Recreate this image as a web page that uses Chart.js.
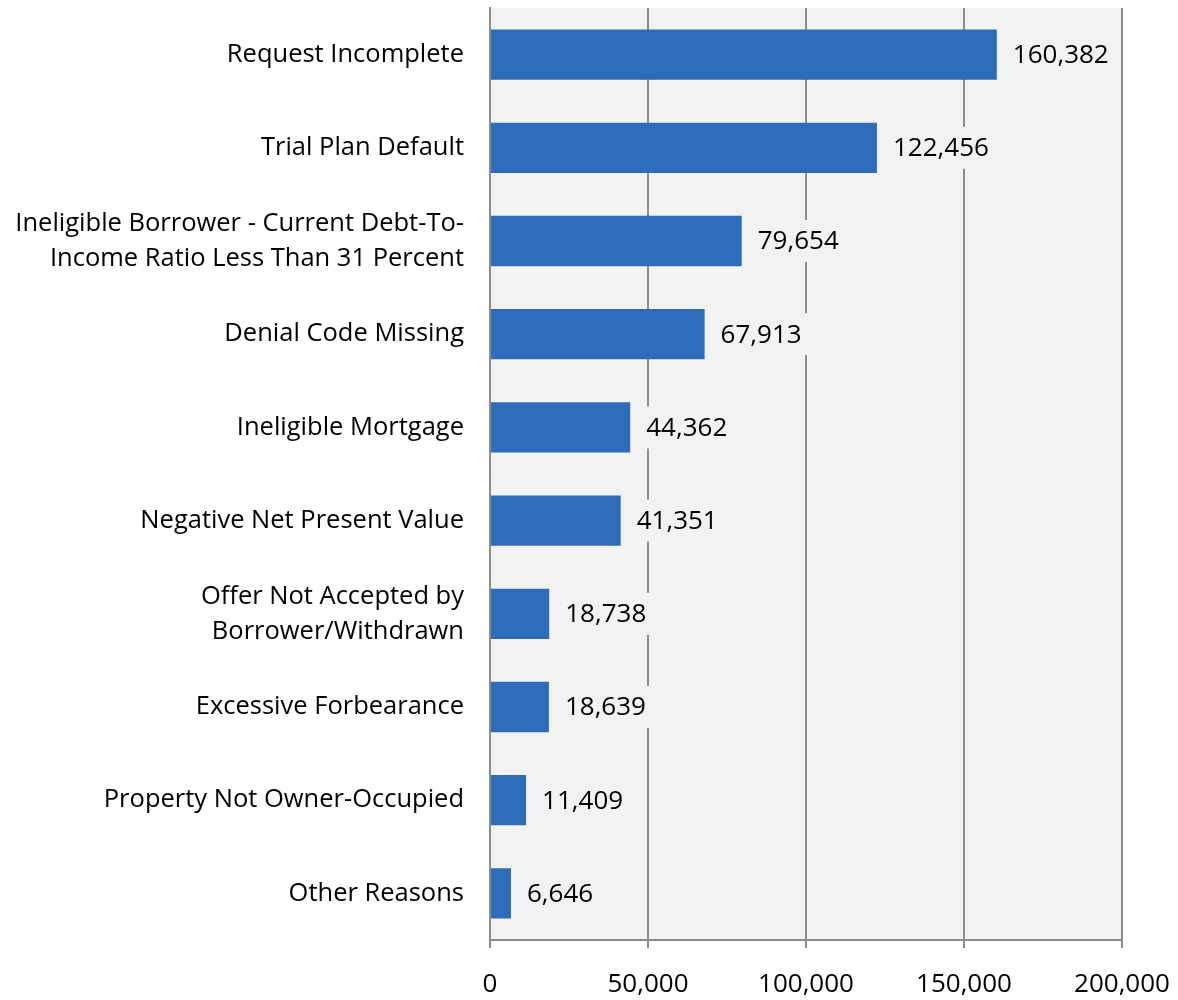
<!DOCTYPE html>
<html>
<head>
<meta charset="utf-8">
<script src="https://cdn.jsdelivr.net/npm/chart.js@4/dist/chart.umd.min.js"></script>
<style>
  html, body { margin: 0; padding: 0; background: #ffffff; }
  #wrap { width: 1178px; height: 1000px; }
</style>
</head>
<body>
<div id="wrap"><canvas id="myChart" width="1178" height="1000"></canvas></div>
<script>
var categories = [
	'Request Incomplete',
	'Trial Plan Default',
	['Ineligible Borrower - Current Debt-To-', 'Income Ratio Less Than 31 Percent'],
	'Denial Code Missing',
	'Ineligible Mortgage',
	'Negative Net Present Value',
	['Offer Not Accepted by', 'Borrower/Withdrawn'],
	'Excessive Forbearance',
	'Property Not Owner-Occupied',
	'Other Reasons'
];
var counts = [160382, 122456, 79654, 67913, 44362, 41351, 18738, 18639, 11409, 6646];
var xTicks = [0, 50000, 100000, 150000, 200000];

var fontFamily = "'Open Sans', sans-serif";
var plotBg = '#f2f2f2';

function fmt(v) {
	return v.toLocaleString('en-US');
}

// grey plot area behind the bars
var plotBackground = {
	id: 'plotBackground',
	beforeDraw: function(chart) {
		var a = chart.chartArea;
		var ctx = chart.ctx;
		ctx.save();
		ctx.fillStyle = plotBg;
		ctx.fillRect(a.left, a.top, a.right - a.left, a.bottom - a.top);
		ctx.restore();
	}
};

// value labels with a box that hides the gridlines
var valueLabels = {
	id: 'valueLabels',
	afterDatasetsDraw: function(chart) {
		var ctx = chart.ctx;
		var meta = chart.getDatasetMeta(0);
		ctx.save();
		ctx.font = '26px ' + fontFamily;
		ctx.textBaseline = 'middle';
		ctx.textAlign = 'left';
		meta.data.forEach(function(bar, i) {
			var txt = fmt(counts[i]);
			var w = ctx.measureText(txt).width;
			var x = bar.x + 16;
			ctx.fillStyle = plotBg;
			ctx.fillRect(x - 6, bar.y - 21, w + 12, 42);
			ctx.fillStyle = '#000000';
			ctx.fillText(txt, x, bar.y + 1);
		});
		ctx.restore();
	}
};

var config = {
	type: 'bar',
	data: {
		labels: categories,
		datasets: [{
			data: counts,
			backgroundColor: '#2e6bb8',
			borderWidth: 0,
			barPercentage: 0.54,
			categoryPercentage: 1.0
		}]
	},
	options: {
		indexAxis: 'y',
		responsive: false,
		animation: false,
		layout: { padding: { top: 8, right: 56, left: 0, bottom: 0 } },
		plugins: {
			legend: { display: false },
			tooltip: { enabled: false }
		},
		scales: {
			x: {
				min: 0,
				max: 200000,
				afterBuildTicks: function(axis) {
					axis.ticks = xTicks.map(function(v) { return { value: v }; });
				},
				afterFit: function(axis) {
					axis.height = 60;
					axis.paddingLeft = 0;
					axis.paddingRight = 0;
				},
				ticks: {
					color: '#000000',
					font: { family: fontFamily, size: 26 },
					padding: 21,
					maxRotation: 0,
					callback: function(v) { return fmt(v); }
				},
				grid: {
					color: '#8c8c8c',
					lineWidth: 2,
					tickLength: 8,
					drawTicks: true
				},
				border: { color: '#8c8c8c', width: 2 }
			},
			y: {
				afterFit: function(axis) {
					axis.width = 490;
					axis.paddingTop = 0;
					axis.paddingBottom = 0;
				},
				ticks: {
					color: '#000000',
					font: { family: fontFamily, size: 25.5, lineHeight: 1.37 },
					padding: 26,
					autoSkip: false
				},
				grid: { display: false, drawTicks: false },
				border: { color: '#8c8c8c', width: 2 }
			}
		}
	},
	plugins: [plotBackground, valueLabels]
};

var myChart = new Chart(document.getElementById('myChart'), config);
</script>
</body>
</html>
